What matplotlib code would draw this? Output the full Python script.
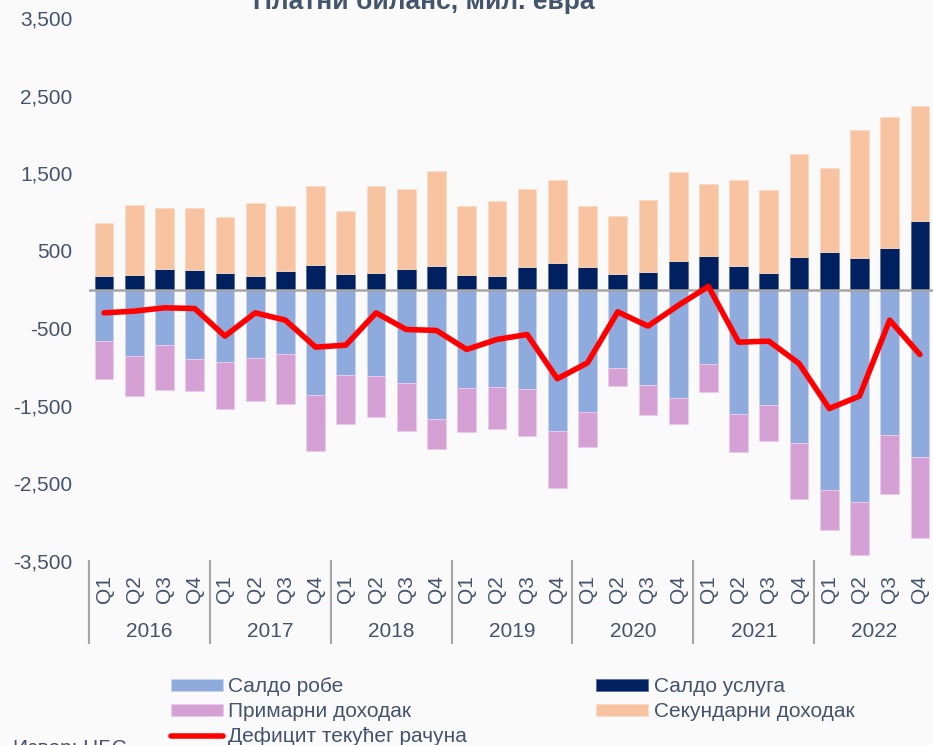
import matplotlib.pyplot as plt
import matplotlib.transforms as mtransforms
import numpy as np

plt.rcParams['font.family'] = ['Liberation Sans', 'DejaVu Sans']

years = ['2016', '2017', '2018', '2019', '2020', '2021', '2022']
quarters = ['Q1', 'Q2', 'Q3', 'Q4']

# мил. евра, по кварталима 2016-2022
goods = [-661, -851, -717, -893, -932, -881, -833, -1357, -1104, -1113, -1203, -1667,
         -1276, -1254, -1280, -1821, -1576, -1009, -1229, -1396, -958, -1602, -1486, -1976,
         -2582, -2736, -1881, -2156]
services = [180, 193, 266, 253, 219, 172, 236, 322, 198, 215, 262, 309,
            185, 180, 292, 339, 288, 206, 232, 361, 438, 305, 219, 421,
            481, 404, 533, 889]
primary = [-499, -524, -585, -417, -606, -554, -649, -726, -627, -532, -627, -395,
           -567, -546, -610, -743, -451, -237, -390, -335, -361, -494, -468, -730,
           -519, -688, -756, -1048]
secondary = [675, 894, 791, 804, 717, 949, 842, 1014, 820, 1117, 1040, 1220,
             885, 963, 1010, 1079, 790, 739, 919, 1155, 919, 1108, 1070, 1327,
             1083, 1654, 1696, 1478]
deficit = [-301, -279, -236, -245, -601, -301, -395, -743, -717, -301, -515, -528,
           -773, -644, -580, -1151, -945, -288, -472, -206, 40, -679, -666, -954,
           -1534, -1375, -395, -838]

txt = '#44546A'
bg = '#FAFAFA'

fig = plt.figure(figsize=(9.33, 7.45), dpi=100, facecolor=bg)
ax = fig.add_axes([89 / 933, 1 - 561 / 745, 846 / 933, 543 / 745], facecolor=bg)

x = np.arange(len(goods))
w = 0.62
ax.bar(x, goods, w, color='#8FAADC', edgecolor='#C9D6EE', linewidth=0.6, label='Салдо робе', zorder=2)
ax.bar(x, primary, w, bottom=goods, color='#D5A0D3', edgecolor='#EBCBEA', linewidth=0.6,
       label='Примарни доходак', zorder=2)
ax.bar(x, services, w, color='#002060', edgecolor='#5A6E95', linewidth=0.6, label='Салдо услуга', zorder=2)
ax.bar(x, secondary, w, bottom=services, color='#F8C3A0', edgecolor='#FBDCC6', linewidth=0.6,
       label='Секундарни доходак', zorder=2)
ax.plot(x, deficit, color='#FF0000', lw=4, solid_joinstyle='round', solid_capstyle='round',
        label='Дефицит текућег рачуна', zorder=4)
ax.axhline(0, color='#A6A6A6', lw=1.8, zorder=3)

ax.set_xlim(-0.5, len(goods) - 0.5)
ax.set_ylim(-3500, 3500)
ax.set_yticks(np.arange(-3500, 3501, 1000))
ax.set_yticklabels([f'{v:,}' for v in np.arange(-3500, 3501, 1000)])
ax.set_xticks(x)
ax.set_xticklabels(quarters * len(years), rotation=90)
ax.tick_params(length=0, labelsize=15, labelcolor=txt)
ax.tick_params(axis='y', pad=12)
ax.tick_params(axis='x', pad=10)
for s in ax.spines.values():
    s.set_visible(False)

# годишње групе испод осе
tr = mtransforms.blended_transform_factory(ax.transData, ax.transAxes)
for k in range(len(years) + 1):
    ax.plot([4 * k - 0.5] * 2, [0, -0.151], transform=tr, color='#A6A6A6', lw=1.5, clip_on=False)
for k, yr in enumerate(years):
    ax.text(4 * k + 1.5, -0.13, yr, transform=tr, ha='center', va='center', fontsize=15, color=txt)

fig.text(424 / 933, 1 - 9 / 745, 'Платни биланс, мил. евра', ha='center', va='baseline',
         fontsize=19, fontweight='bold', color=txt)
fig.text(13 / 933, 1 - 739 / 745, 'Извор: НБС', ha='left', va='top', fontsize=15, color=txt)

h, l = ax.get_legend_handles_labels()
order = [1, 2, 0, 3, 4]
h = [h[i] for i in order]
l = [l[i] for i in order]
fig.legend(h, l, ncol=2, loc='upper left', bbox_to_anchor=(171 / 933, 1 - 677 / 745),
           frameon=False, fontsize=15, labelcolor=txt, borderpad=0, borderaxespad=0,
           handlelength=2.5, handleheight=0.5, handletextpad=0.25, labelspacing=0.3,
           columnspacing=6.2)

fig.savefig('out.png', dpi=100, facecolor=bg)
